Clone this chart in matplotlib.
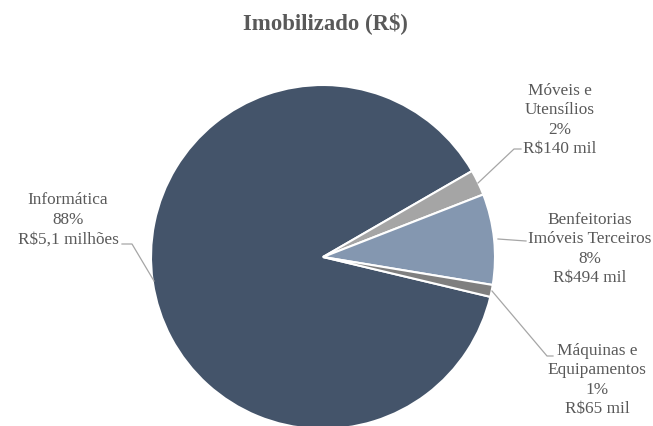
import matplotlib
matplotlib.use("Agg")
import matplotlib.pyplot as plt

categories = ["Informática", "Móveis e\nUtensílios", "Benfeitorias\nImóveis Terceiros", "Máquinas e\nEquipamentos"]
values = [5100, 140, 494, 65]
value_labels = ["R$5,1 milhões", "R$140 mil", "R$494 mil", "R$65 mil"]
pct_labels = ["88%", "2%", "8%", "1%"]
colors = ["#44546A", "#A5A5A5", "#8497B0", "#7F7F7F"]

W, H = 653, 427
fig = plt.figure(figsize=(W / 100, H / 100), dpi=100)
ax = fig.add_axes([0, 0, 1, 1])

cx, cy, r = 323, H - 258, 172
ax.pie(values, colors=colors, startangle=-13.4, counterclock=False,
       center=(cx, cy), radius=r, frame=True,
       wedgeprops=dict(edgecolor="white", linewidth=1.5))
ax.set_xlim(0, W)
ax.set_ylim(0, H)
ax.set_aspect("equal")
ax.axis("off")

font = dict(family="Liberation Serif", fontsize=12.4, color="#595959")

def lab(i):
    return f"{categories[i]}\n{pct_labels[i]}\n{value_labels[i]}"

# label positions (pixel coords, y from top)
ax.text(68, H - 220, lab(0), ha="center", va="center", linespacing=1.3, **font)
ax.text(560, H - 120, lab(1), ha="center", va="center", linespacing=1.3, **font)
ax.text(590, H - 249, lab(2), ha="center", va="center", linespacing=1.3, **font)
ax.text(597, H - 380, lab(3), ha="center", va="center", linespacing=1.3, **font)

lc = dict(color="#A6A6A6", linewidth=0.9)
ax.plot([122, 132, 154], [H - 245, H - 245, H - 282], **lc)
ax.plot([478, 514, 521], [H - 184, H - 150, H - 150], **lc)
ax.plot([498, 526], [H - 240, H - 242], **lc)
ax.plot([492, 547, 553], [H - 292, H - 357, H - 357], **lc)

ax.text(325, H - 23, "Imobilizado (R$)", ha="center", va="center",
        family="Liberation Serif", fontsize=16.4, fontweight="bold", color="#595959")

fig.savefig("out.png", dpi=100)
